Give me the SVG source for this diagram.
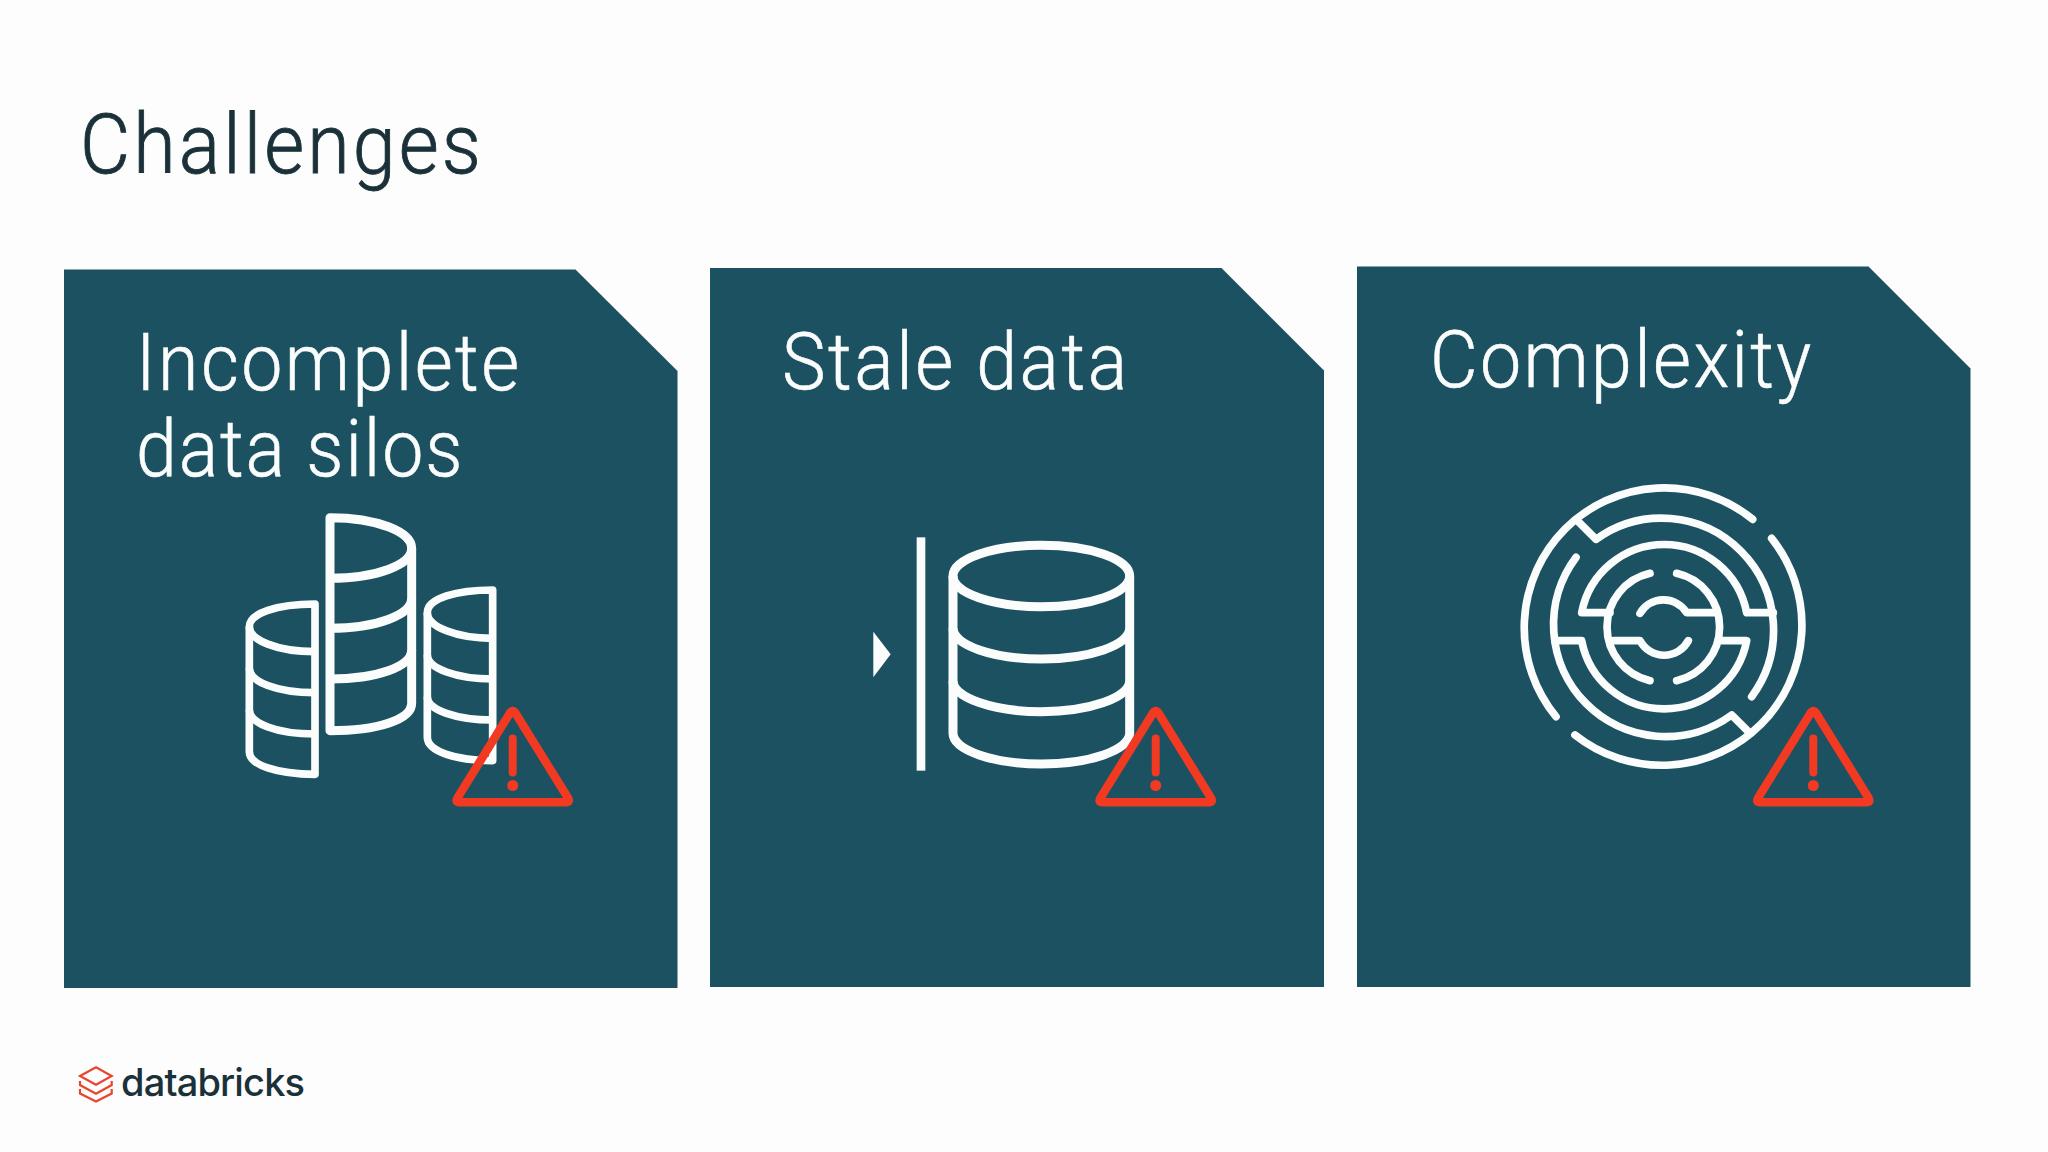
<svg xmlns="http://www.w3.org/2000/svg" width="2048" height="1152" viewBox="0 0 2048 1152">
<style>
.panel{fill:#1c5162}
.t{font-family:Roboto,"Liberation Sans",sans-serif;font-weight:300;font-size:79px;fill:#fbfdfd;stroke:#fbfdfd;stroke-width:.6}
.w{fill:none;stroke:#fbfdfd;stroke-linejoin:round}
.m{fill:none;stroke:#fbfdfd;stroke-width:23;stroke-linecap:round;stroke-linejoin:round}
.r{fill:none;stroke:#f23a22;stroke-linecap:round;stroke-linejoin:round}
</style>
<defs>
<g id="warn">
<path class="r" stroke-width="8.500" d="M-3 4Q0 -1 3 4L55 88Q58 92.700 53 92.700H-53Q-58 92.700 -55 88Z"/>
<path class="r" stroke-width="8" d="M0 29V63"/>
<circle cx="0" cy="76" r="5.500" fill="#f23a22"/>
</g>
</defs>
<rect width="2048" height="1152" fill="#fdfdfd"/>
<text id="title" transform="translate(80 173) scale(.93 1)" textLength="431" lengthAdjust="spacing" font-family="Roboto,'Liberation Sans',sans-serif" font-weight="300" font-size="83" fill="#1b3139" stroke="#1b3139" stroke-width=".9">Challenges</text>

<g id="card-silos">
<path class="panel" d="M64 269.500H575.500L677.500 371V988H64Z"/>
<text class="t" transform="translate(136 390) scale(.93 1)" textLength="412" lengthAdjust="spacing">Incomplete</text>
<text class="t" transform="translate(136 475.500) scale(.93 1)" textLength="351" lengthAdjust="spacing">data silos</text>
<g transform="translate(220 490) scale(.33333)">
<g class="w" stroke-width="23">
<path d="M285 342C170 342 88 370 88 410V785C88 825 170 853 285 853Z"/>
<path d="M88 410C88 450 170 485 285 485M88 535C88 575 170 608 285 608M88 660C88 700 170 732 285 732"/>
</g>
<g class="w" stroke-width="27">
<path d="M330 83C470 83 575 125 575 175V640C575 690 470 722 330 722Z"/>
<path d="M575 175C575 225 470 265 330 265M575 325C575 375 470 415 330 415M575 480C575 530 470 567 330 567"/>
</g>
<g class="w" stroke-width="23">
<path d="M818 300C710 300 622 325 622 368V742C622 785 710 812 818 812Z"/>
<path d="M622 368C622 410 710 445 818 445M622 495C622 535 710 567 818 567M622 620C622 660 710 690 818 690"/>
</g>
</g>
<use href="#warn" x="512.700" y="709.500"/>
</g>

<g id="card-stale">
<path class="panel" d="M710 268H1221.500L1324 370.500V987H710Z"/>
<text class="t" transform="translate(782 389) scale(.93 1)" textLength="371" lengthAdjust="spacing">Stale data</text>
<g transform="translate(850 510) scale(.33333)">
<rect x="200" y="82" width="26" height="700" fill="#fbfdfd"/>
<path d="M70 365L122 433L70 502Z" fill="#fbfdfd"/>
<g class="w" stroke-width="27">
<ellipse cx="574" cy="198" rx="265" ry="92"/>
<path d="M309 198V670C309 720 430 762 574 762S839 720 839 670V198"/>
<path d="M309 355C309 405 430 447 574 447S839 405 839 355M309 513C309 563 430 605 574 605S839 563 839 513"/>
</g>
</g>
<use href="#warn" x="1155.700" y="709.500"/>
</g>

<g id="card-complexity">
<path class="panel" d="M1357 266.500H1868.500L1970.500 368.500V987H1357Z"/>
<text class="t" transform="translate(1430 387) scale(.93 1)" textLength="410" lengthAdjust="spacing">Complexity</text>
<g transform="translate(1500 470) scale(.33333)">
<path class="m" d="M758 148A420 420 0 0 0 168 740"/>
<path class="m" d="M225 795A420 420 0 0 0 815 205"/>
<path class="m" d="M230 150L288 208A336 336 0 0 1 755 680"/>
<path class="m" d="M228 262A336 336 0 0 0 695 735L750 790"/>
<path class="m" d="M330 428H245A252 252 0 0 1 740 428H820"/>
<path class="m" d="M165 512H245A252 252 0 0 0 740 512H660"/>
<path class="m" d="M450 310A165 165 0 0 0 450 632"/>
<path class="m" d="M530 310A165 165 0 0 1 530 632"/>
<path class="m" d="M420 430A82 82 0 0 1 560 428H650"/>
<path class="m" d="M340 512H420A82 82 0 0 0 565 512"/>
</g>
<use href="#warn" x="1813.300" y="709.500"/>
</g>

<g id="logo">
<g fill="none" stroke="#e8452c" stroke-width="2.200" stroke-linejoin="miter">
<path d="M80 1076L96 1067.300L111.700 1076L96 1084.700Z"/>
<path d="M80 1081V1085L96 1093.700L111.700 1085V1081"/>
<path d="M80 1089V1093.500L96 1101.500L111.700 1093.500V1089"/>
</g>
<text x="121" y="1096" textLength="184" lengthAdjust="spacing" font-family="Inter,Lato,'Liberation Sans',sans-serif" font-weight="500" font-size="38" fill="#1b3139">databricks</text>
</g>
</svg>
